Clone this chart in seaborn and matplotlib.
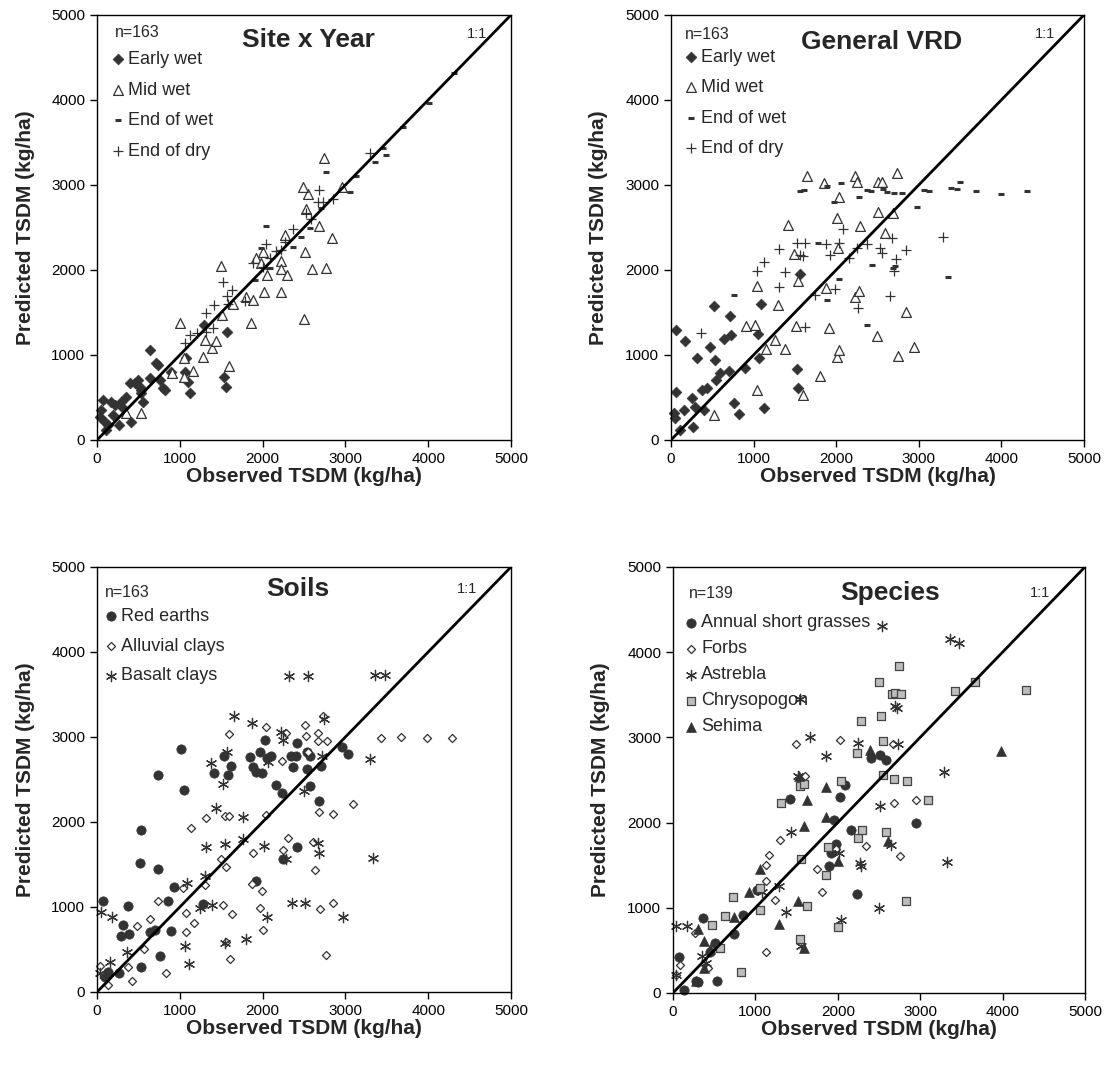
import matplotlib
matplotlib.use("Agg")
import matplotlib.pyplot as plt
import numpy as np
import pandas as pd
import seaborn as sns

# ---------------- Site x Year ----------------
sy_early_obs = [32, 73, 173, 52, 133, 113, 193, 266, 314, 355, 415, 455, 516, 536, 556, 637, 637, 737, 758, 818,
                1080, 1060, 1100, 1120, 1564, 1535, 1552, 1290, 395, 294, 214, 93, 536, 495, 717, 797, 898]
sy_early_pred = [274, 470, 451, 353, 176, 118, 294, 176, 372, 510, 216, 666, 627, 549, 451, 1058, 725, 882, 706, 588,
                 960, 804, 686, 557, 1274, 745, 627, 1352, 666, 451, 412, 216, 588, 706, 902, 608, 803]
sy_mid_obs = [528, 355, 911, 1052, 1161, 1007, 1052, 1281, 1301, 1390, 1434, 1596, 1515, 1503, 1644, 1805, 1886, 1858,
              2015, 2007, 1926, 2047, 2228, 2220, 2228, 2297, 2268, 2510, 2591, 2760, 2502, 2680, 2841, 2530, 2551,
              2490, 2744, 2962, 1986]
sy_mid_pred = [322, 314, 784, 745, 816, 1373, 961, 980, 1177, 1078, 1169, 871, 1471, 2047, 1596, 1686, 1647, 1380,
               1737, 2216, 2137, 1941, 1737, 2110, 2012, 1941, 2412, 2216, 2008, 2020, 1420, 2522, 2381, 2718, 2894,
               2973, 3322, 2973, 2078]
sy_endwet_obs = [2045, 2760, 3058, 3131, 3493, 3352, 3457, 3691, 4009, 4311, 2459, 2366, 2567, 2708, 1984, 1903, 2064, 2087]
sy_endwet_pred = [2517, 3148, 2913, 3108, 3352, 3273, 3431, 3686, 3969, 4322, 2391, 2274, 2490, 2725, 2254, 1882, 2019, 2020]
sy_enddry_obs = [3296, 2683, 2671, 2732, 2853, 2530, 2579, 2361, 2276, 2160, 2035, 1886, 2007, 1523, 1636, 1567, 1785,
                 1414, 1314, 1402, 1128, 1060, 1213, 1322, 1583, 2087, 2228]
sy_enddry_pred = [3380, 2941, 2804, 2804, 2831, 2667, 2600, 2482, 2326, 2228, 2306, 2079, 2039, 1863, 1765, 1694, 1635,
                  1588, 1490, 1322, 1235, 1137, 1255, 1267, 1596, 2137, 2235]

# ---------------- General VRD ----------------
vrd_early_obs = [65, 173, 65, 32, 52, 113, 153, 262, 254, 315, 294, 375, 435, 468, 528, 516, 544, 597, 637, 698, 726,
                 718, 766, 823, 899, 1048, 1060, 1089, 1121, 1524, 1544, 1565, 395]
vrd_early_pred = [1294, 1169, 569, 314, 255, 118, 353, 149, 490, 961, 384, 588, 608, 1090, 941, 1577, 706, 784, 1184,
                  816, 1235, 1459, 431, 306, 843, 1243, 961, 1600, 373, 831, 608, 1949, 353]
vrd_mid_obs = [524, 1040, 911, 1012, 1153, 1262, 1294, 1375, 1040, 1512, 1540, 1484, 1423, 1645, 1847, 1806, 1593, 1879,
               1919, 2008, 2040, 2008, 2036, 2028, 2230, 2250, 2290, 2230, 2282, 2500, 2512, 2512, 2552, 2593, 2685,
               2742, 2754, 2843, 2947]
vrd_mid_pred = [294, 588, 1341, 1353, 1067, 1177, 1588, 1067, 1812, 1341, 1871, 2188, 2530, 3106, 3028, 757, 529, 1784,
                1322, 980, 1059, 2608, 2863, 2255, 3106, 3040, 2518, 1686, 1753, 1224, 2687, 3040, 3040, 2432, 2675,
                3145, 988, 1510, 1098]
vrd_endwet_obs = [1565, 1613, 1887, 2056, 1976, 2278, 2371, 2419, 2573, 2613, 2706, 2794, 3068, 3129, 3387, 3500, 3460,
                  3689, 3996, 4306, 2976, 3358, 2439, 2371, 1887, 2040, 1786, 758, 2693, 2714]
vrd_endwet_pred = [2930, 2941, 2989, 3028, 2804, 2855, 2941, 2930, 2949, 2922, 2910, 2910, 2941, 2930, 2969, 3032, 2949,
                   2934, 2894, 2930, 2738, 1922, 2059, 1353, 1647, 1894, 2314, 1706, 2020, 2047]
vrd_enddry_obs = [363, 1040, 1129, 1314, 1314, 1383, 1524, 1625, 1565, 1597, 1625, 1738, 1875, 1927, 1988, 2040, 2080,
                  2161, 2250, 2262, 2371, 2532, 2552, 2681, 2722, 2706, 2653, 2847, 3290]
vrd_enddry_pred = [1263, 1992, 2098, 2243, 1804, 1981, 2314, 2314, 2177, 2165, 1333, 1706, 2306, 2177, 1777, 2314, 2479,
                   2145, 2255, 1549, 2302, 2255, 2196, 2381, 2126, 1988, 1694, 2235, 2385]

# ---------------- Soils ----------------
red_obs = [73, 375, 314, 294, 387, 266, 133, 93, 528, 516, 528, 737, 737, 858, 899, 927, 766, 637, 705, 1011, 1052,
           1281, 1410, 1531, 1584, 1624, 1853, 1886, 1926, 1974, 1998, 2027, 2059, 2099, 2167, 2236, 2248, 2341, 2401,
           2421, 2369, 2538, 2578, 2538, 2570, 2711, 2683, 2417, 1926, 2953, 3034]
red_pred = [1075, 1013, 789, 659, 683, 220, 239, 181, 298, 1523, 1900, 1444, 2547, 1075, 722, 1240, 428, 703, 730, 2861,
            2379, 1036, 2575, 2771, 2547, 2653, 2763, 2645, 2594, 2818, 2575, 2967, 2751, 2771, 2437, 2339, 1562, 2771,
            2771, 2928, 2645, 2822, 2771, 2622, 2426, 2653, 2249, 1711, 1311, 2877, 2799]
alluvial_obs = [40, 133, 375, 423, 487, 564, 645, 737, 830, 1040, 1072, 1080, 1140, 1168, 1309, 1313, 1503, 1523, 1543,
                1555, 1563, 1595, 1603, 1632, 1595, 1866, 1886, 1966, 1998, 2007, 2035, 2035, 2240, 2248, 2288, 2301,
                2510, 2530, 2603, 2631, 2683, 2671, 2671, 2691, 2731, 2772, 2764, 2845, 2853, 3095, 3429, 3666, 3981,
                4291, 2550]
alluvial_pred = [306, 82, 290, 133, 777, 502, 856, 1075, 228, 1221, 934, 710, 1927, 809, 1260, 2045, 1562, 1024, 2065,
                 593, 1476, 2065, 389, 918, 3034, 1272, 1633, 985, 1193, 730, 2084, 3116, 2712, 1672, 3046, 1809, 3144,
                 3007, 1770, 1437, 2123, 3046, 2948, 973, 3250, 2948, 436, 1044, 2092, 2210, 2987, 2999, 2987, 2987, 2818]
basalt_obs = [52, 185, 32, 363, 161, 1060, 1112, 1088, 1301, 1313, 1241, 1394, 1434, 1523, 1543, 1543, 1571, 1382, 1656,
              1765, 1765, 1805, 1866, 2015, 2055, 2067, 2228, 2248, 2288, 2320, 2349, 2510, 2498, 2550, 2671, 2683, 2723,
              2740, 2965, 3296, 3336, 3356, 3477]
basalt_pred = [946, 879, 220, 475, 357, 542, 330, 1280, 1366, 1711, 985, 1024, 2163, 2449, 1743, 581, 2818, 2692, 3250,
               2057, 1798, 620, 3164, 1719, 879, 2700, 3058, 2967, 1562, 3721, 1044, 1044, 2367, 3721, 1751, 1633, 2771,
               3211, 887, 2740, 1574, 3733, 3733]

# ---------------- Species ----------------
annual_obs = [73, 130, 304, 364, 534, 506, 453, 737, 850, 1020, 1417, 1895, 1923, 1984, 1952, 2024, 2085, 2166, 2235,
              2409, 2518, 2591, 2948, 284]
annual_pred = [419, 39, 125, 880, 137, 587, 477, 696, 919, 1213, 2277, 1494, 1643, 1753, 2034, 2296, 2437, 1917, 1162,
               2758, 2797, 2738, 1995, 136]
forbs_obs = [81, 40, 263, 425, 1126, 1134, 1134, 1166, 1235, 1304, 1498, 1600, 1749, 1810, 2024, 1976, 2348, 2672, 2680,
             2761, 2948]
forbs_pred = [333, 215, 704, 293, 477, 1318, 1506, 1623, 1095, 1792, 2926, 2543, 1455, 1181, 2973, 1690, 1721, 2926,
              2230, 1604, 2269]
astrebla_obs = [40, 170, 356, 405, 32, 1085, 1288, 1377, 1437, 1538, 1518, 1551, 1660, 1862, 2045, 2016, 2247, 2267,
                2288, 2502, 2510, 2543, 2652, 2692, 2721, 2733, 3288, 3328, 3361, 3474]
astrebla_pred = [782, 782, 430, 352, 215, 1181, 1252, 947, 1886, 3450, 2543, 548, 3004, 2777, 861, 1643, 2934, 1526,
                 1487, 998, 2191, 4303, 1741, 3364, 3344, 2922, 2594, 1534, 4154, 4108]
chryso_obs = [822, 474, 636, 729, 567, 1053, 1061, 1316, 1547, 1587, 1559, 1538, 1632, 1863, 1883, 2004, 2037, 2235,
              2247, 2279, 2300, 2498, 2523, 2551, 2551, 2591, 2660, 2684, 2692, 2741, 2773, 2834, 2842, 3097, 3429,
              3664, 4284]
chryso_pred = [246, 802, 900, 1123, 528, 1232, 978, 2230, 2425, 2457, 1573, 634, 1017, 1389, 1713, 771, 2484, 2817,
               1819, 3188, 1909, 3646, 3247, 2954, 2562, 1886, 3509, 2512, 3520, 3842, 3509, 1076, 2484, 2269, 3540,
               3650, 3560]
sehima_obs = [304, 377, 377, 284, 445, 737, 923, 1053, 1284, 1518, 1530, 1591, 1587, 1628, 1862, 1862, 2004, 2397, 2611,
              3976]
sehima_pred = [751, 614, 293, 136, 516, 888, 1181, 1455, 810, 1076, 2551, 528, 1956, 2269, 2414, 2062, 1545, 2856, 1780,
               2836]

one_to_one = [0, 5000]
ticks = [0, 1000, 2000, 3000, 4000, 5000]

DARK = "#333333"

# marker styles
filled_diamond = dict(marker="D", s=30, color=DARK, edgecolor=DARK, linewidth=0.5)
open_triangle = dict(marker="^", s=50, color=DARK, facecolor="white", edgecolor=DARK, linewidth=0.9)
dash = dict(marker="_", s=22, color=DARK, linewidth=2.2)
plus = dict(marker="+", s=55, color=DARK, linewidth=0.9)
filled_circle = dict(marker="o", s=45, color=DARK, edgecolor=DARK, linewidth=0.5)
open_diamond = dict(marker="D", s=17, color=DARK, facecolor="white", edgecolor=DARK, linewidth=0.9)
asterisk = dict(marker=(6, 2, 0), s=55, color=DARK, linewidth=0.9)
grey_square = dict(marker="s", s=32, color="#444444", facecolor="#bdbdbd", edgecolor="#444444", linewidth=0.9)
filled_triangle = dict(marker="^", s=50, color=DARK, edgecolor=DARK, linewidth=0.5)

panels = [
    dict(title="Site x Year", n="n=163", pos=[0.0871, 0.5888, 0.3716, 0.3972],
         title_xy=(0.51, 0.94), n_xy=(0.043, 0.958), r_xy=(0.942, 0.955),
         leg_xy=(0.034, 0.915), spacing=0.75,
         groups=[("Early wet", sy_early_obs, sy_early_pred, filled_diamond),
                 ("Mid wet", sy_mid_obs, sy_mid_pred, open_triangle),
                 ("End of wet", sy_endwet_obs, sy_endwet_pred, dash),
                 ("End of dry", sy_enddry_obs, sy_enddry_pred, plus)]),
    dict(title="General VRD", n="n=163", pos=[0.6023, 0.5888, 0.3707, 0.3972],
         title_xy=(0.51, 0.937), n_xy=(0.034, 0.955), r_xy=(0.93, 0.955),
         leg_xy=(0.031, 0.921), spacing=0.75,
         groups=[("Early wet", vrd_early_obs, vrd_early_pred, filled_diamond),
                 ("Mid wet", vrd_mid_obs, vrd_mid_pred, open_triangle),
                 ("End of wet", vrd_endwet_obs, vrd_endwet_pred, dash),
                 ("End of dry", vrd_enddry_obs, vrd_enddry_pred, plus)]),
    dict(title="Soils", n="n=163", pos=[0.0871, 0.0729, 0.3716, 0.3972],
         title_xy=(0.485, 0.948), n_xy=(0.02, 0.94), r_xy=(0.918, 0.948),
         leg_xy=(0.017, 0.903), spacing=0.7,
         groups=[("Red earths", red_obs, red_pred, filled_circle),
                 ("Alluvial clays", alluvial_obs, alluvial_pred, open_diamond),
                 ("Basalt clays", basalt_obs, basalt_pred, asterisk)]),
    dict(title="Species", n="n=139", pos=[0.6041, 0.072, 0.3698, 0.3981],
         title_xy=(0.527, 0.939), n_xy=(0.039, 0.937), r_xy=(0.915, 0.94),
         leg_xy=(0.027, 0.889), spacing=0.5,
         groups=[("Annual short grasses", annual_obs, annual_pred, filled_circle),
                 ("Forbs", forbs_obs, forbs_pred, open_diamond),
                 ("Astrebla", astrebla_obs, astrebla_pred, asterisk),
                 ("Chrysopogon", chryso_obs, chryso_pred, grey_square),
                 ("Sehima", sehima_obs, sehima_pred, filled_triangle)]),
]

sns.set_style("white")
plt.rcParams["font.family"] = ["Liberation Sans", "DejaVu Sans"]

fig = plt.figure(figsize=(11.14, 10.70), dpi=100)

for p in panels:
    ax = fig.add_axes(p["pos"])
    for label, obs, pred, style in p["groups"]:
        df = pd.DataFrame({"obs": obs, "pred": pred})
        sns.scatterplot(data=df, x="obs", y="pred", ax=ax, label=label, zorder=2, clip_on=False, **style)
    ax.plot(one_to_one, one_to_one, color="black", linewidth=2, zorder=3)

    ax.set_xlim(0, 5000)
    ax.set_ylim(0, 5000)
    ax.set_xticks(ticks)
    ax.set_yticks(ticks)
    ax.tick_params(axis="both", which="major", direction="out", length=5, width=1,
                   colors="black", labelsize=11, bottom=True, left=True, top=False, right=False)
    for sp in ax.spines.values():
        sp.set_color("black")
        sp.set_linewidth(1)
    ax.set_xlabel("Observed TSDM (kg/ha)", fontsize=15, fontweight="bold", labelpad=1)
    ax.set_ylabel("Predicted TSDM (kg/ha)", fontsize=15, fontweight="bold", labelpad=12)

    ax.text(*p["title_xy"], p["title"], transform=ax.transAxes, ha="center", va="center",
            fontsize=19, fontweight="bold")
    ax.text(*p["n_xy"], p["n"], transform=ax.transAxes, ha="left", va="center", fontsize=11.5)
    ax.text(*p["r_xy"], "1:1", transform=ax.transAxes, ha="right", va="center", fontsize=10.5)

    ax.legend(loc="upper left", bbox_to_anchor=p["leg_xy"], frameon=False, fontsize=13,
              handletextpad=0.15, handlelength=0.8, labelspacing=p["spacing"],
              borderaxespad=0, borderpad=0, scatterpoints=1)

fig.savefig("out.png", dpi=100)
